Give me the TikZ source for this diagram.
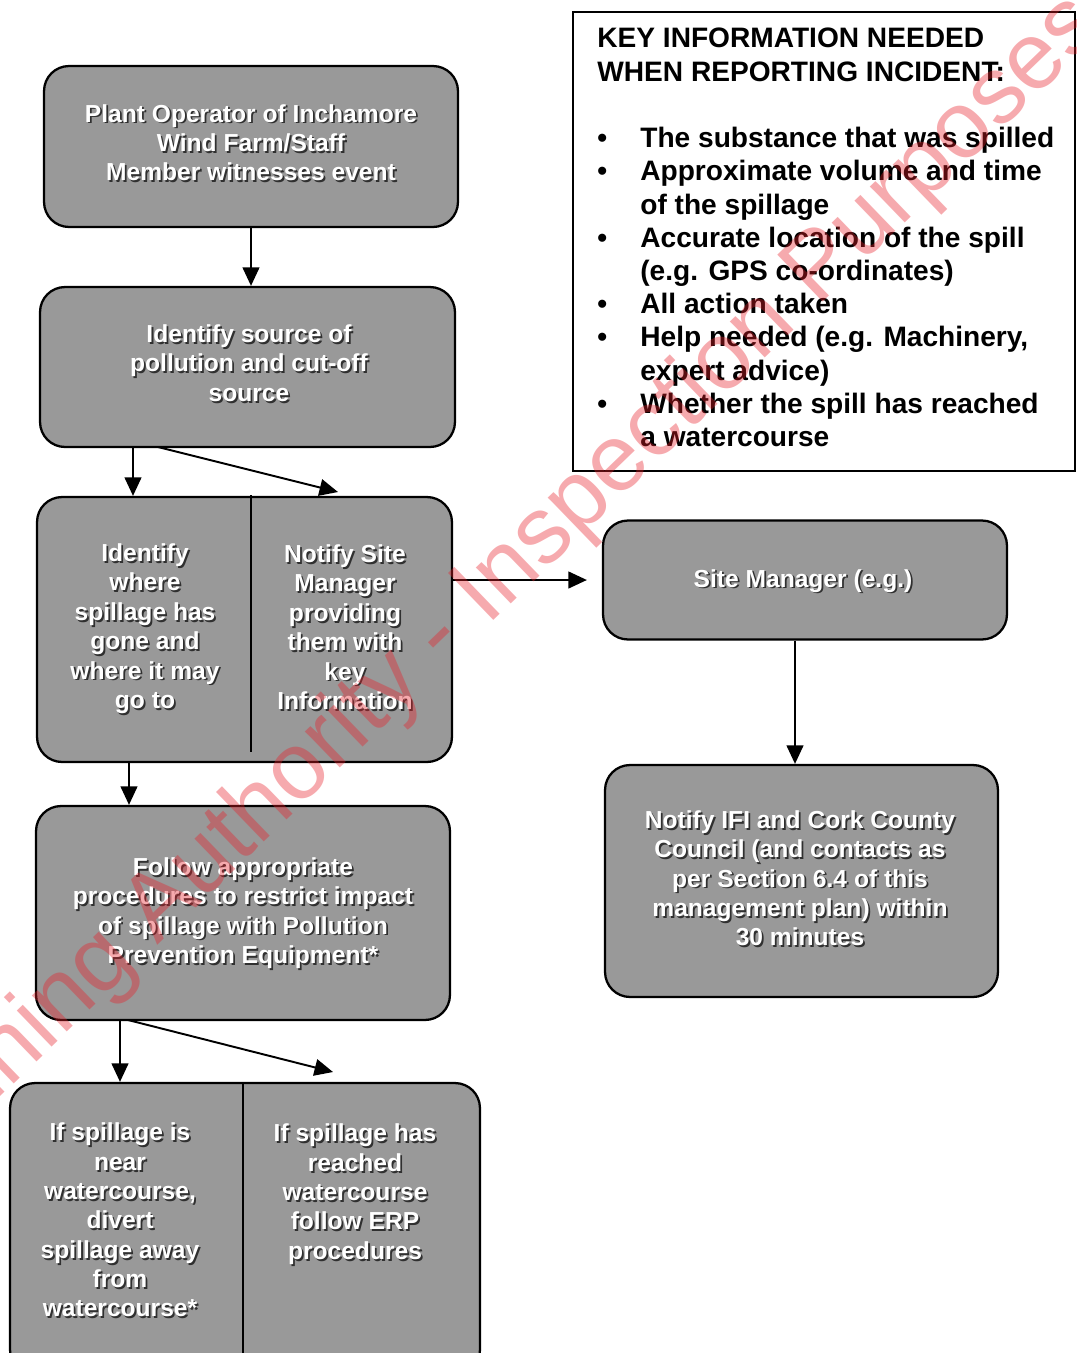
\documentclass[tikz,border=0pt]{standalone}
\usepackage{fontspec}
\setmainfont{Liberation Sans}
\usetikzlibrary{arrows.meta,positioning,calc}
\definecolor{boxgray}{HTML}{999999}
\definecolor{txtshade}{HTML}{303030}
\definecolor{wmred}{HTML}{E8202A}
\newcommand{\shtxt}[1]{%
  \leavevmode\rlap{\kern1pt\raisebox{-1pt}{\color{txtshade}\begin{tabular}{@{}c@{}}#1\end{tabular}}}%
  \begin{tabular}{@{}c@{}}#1\end{tabular}}
\newcommand{\bul}{\makebox[0.86cm][l]{\textbullet}}
\newcommand{\ind}{\hspace*{0.86cm}}
\tikzset{
  flowbox/.style = {draw=black, line width=1.3pt, fill=boxgray,
                    rounded corners=0.5cm, inner sep=0pt},
  flowtxt/.style = {text=white, inner sep=0pt,
                    font=\bfseries\fontsize{14}{16.7}\selectfont},
  divider/.style = {black, line width=0.9pt},
  arr/.style     = {line width=1.1pt, -{Triangle[length=10.5pt,width=9.5pt]}},
  keyframe/.style= {draw=black, line width=1.2pt, inner sep=0pt},
  keytxt/.style  = {align=left, inner sep=0pt,
                    font=\bfseries\fontsize{16}{18.9}\selectfont},
  wmark/.style   = {text=wmred, text opacity=0.38, inner sep=0pt,
                    font=\fontsize{54}{54}\selectfont},
}
\begin{document}
\begin{tikzpicture}[x=0.02cm, y=-0.02cm]
  \clip (0,0) rectangle (1077,1353);
  \useasboundingbox (0,0) rectangle (1077,1353);
  % left column
  \node[flowbox, minimum width=8.28cm, minimum height=3.22cm] (witness) at (251,146.5) {};
  \node[flowbox, minimum width=8.3cm, minimum height=3.2cm] (source) at (247.5,367) {};
  \node[flowbox, minimum width=8.3cm, minimum height=5.3cm] (locate) at (244.5,629.5) {};
  \node[flowbox, minimum width=8.28cm, minimum height=4.28cm] (restrict) at (243,913) {};
  \node[flowbox, minimum width=9.4cm, minimum height=5.84cm] (divert) at (245,1229) {};
  \draw[divider] (251,495) -- (251,752);
  \draw[divider] (243,1083) -- (243,1375);
  % right column
  \node[flowbox, minimum width=8.08cm, minimum height=2.38cm] (sitemgr) at (805,580) {};
  \node[flowbox, minimum width=7.86cm, minimum height=4.64cm] (notify) at (801.5,881) {};
  % texts
  \node[flowtxt] (tWitness) at (251,146.5) {\shtxt{Plant Operator of Inchamore\\Wind Farm/Staff\\Member witnesses event}};
  \node[flowtxt] (tSource) at (249,367) {\shtxt{Identify source of\\pollution and cut-off\\source}};
  \node[flowtxt] (tWhere) at (145,630) {\shtxt{Identify\\where\\spillage has\\gone and\\where it may\\go to}};
  \node[flowtxt] (tTell) at (345,631) {\shtxt{Notify Site\\Manager\\providing\\them with\\key\\Information}};
  \node[flowtxt] (tRestrict) at (243,914.5) {\shtxt{Follow appropriate\\procedures to restrict impact\\of spillage with Pollution\\Prevention Equipment*}};
  \node[flowtxt, anchor=north] (tNear) at (120,1120) {\shtxt{If spillage is\\near\\watercourse,\\divert\\spillage away\\from\\watercourse*}};
  \node[flowtxt, anchor=north] (tReached) at (355,1121) {\shtxt{If spillage has\\reached\\watercourse\\follow ERP\\procedures}};
  \node[flowtxt] (tSitemgr) at (803,582) {\shtxt{Site Manager (e.g.)}};
  \node[flowtxt] (tNotify) at (800,882) {\shtxt{Notify IFI and Cork County\\Council (and contacts as\\per Section 6.4 of this\\management plan) within\\30 minutes}};
  % connectors
  \coordinate (s2a) at (133,447);
  \coordinate (s2b) at (158,447);
  \coordinate (e3b) at (338,492);
  \coordinate (s3) at (129,762);
  \coordinate (s4a) at (120,1020);
  \coordinate (s4b) at (128,1020);
  \coordinate (e5b) at (333,1072);
  \draw[arr] (witness.south) -- (witness.south |- source.north);
  \draw[arr] (s2a) -- (s2a |- locate.north);
  \draw[arr] (s2b) -- (e3b);
  \draw[arr] (locate.east |- sitemgr.west) -- ([xshift=-0.3cm]sitemgr.west);
  \draw[arr] ([xshift=-0.2cm]sitemgr.south) -- ([xshift=-0.2cm]sitemgr.south |- notify.north);
  \draw[arr] (s3) -- (s3 |- restrict.north);
  \draw[arr] (s4a) -- (s4a |- divert.north);
  \draw[arr] (s4b) -- (e5b);
  % key information panel
  \node[keyframe, minimum width=10.04cm, minimum height=9.18cm] (keybox) at (824,241.5) {};
  \node[keytxt, anchor=north west] (keylist) at (597,28) {%
    KEY INFORMATION NEEDED\\
    WHEN REPORTING INCIDENT:\\[18.9pt]
    \bul The substance that was spilled\\
    \bul Approximate volume and time\\
    \ind of the spillage\\
    \bul Accurate location of the spill\\
    \ind (e.g. GPS co-ordinates)\\
    \bul All action taken\\
    \bul Help needed (e.g. Machinery,\\
    \ind expert advice)\\
    \bul Whether the spill has reached\\
    \ind a watercourse};
  % stamp
  \node[wmark, rotate=44] (stamp) at (552,530) {Planning Authority - Inspection Purposes Only};
\end{tikzpicture}
\end{document}
